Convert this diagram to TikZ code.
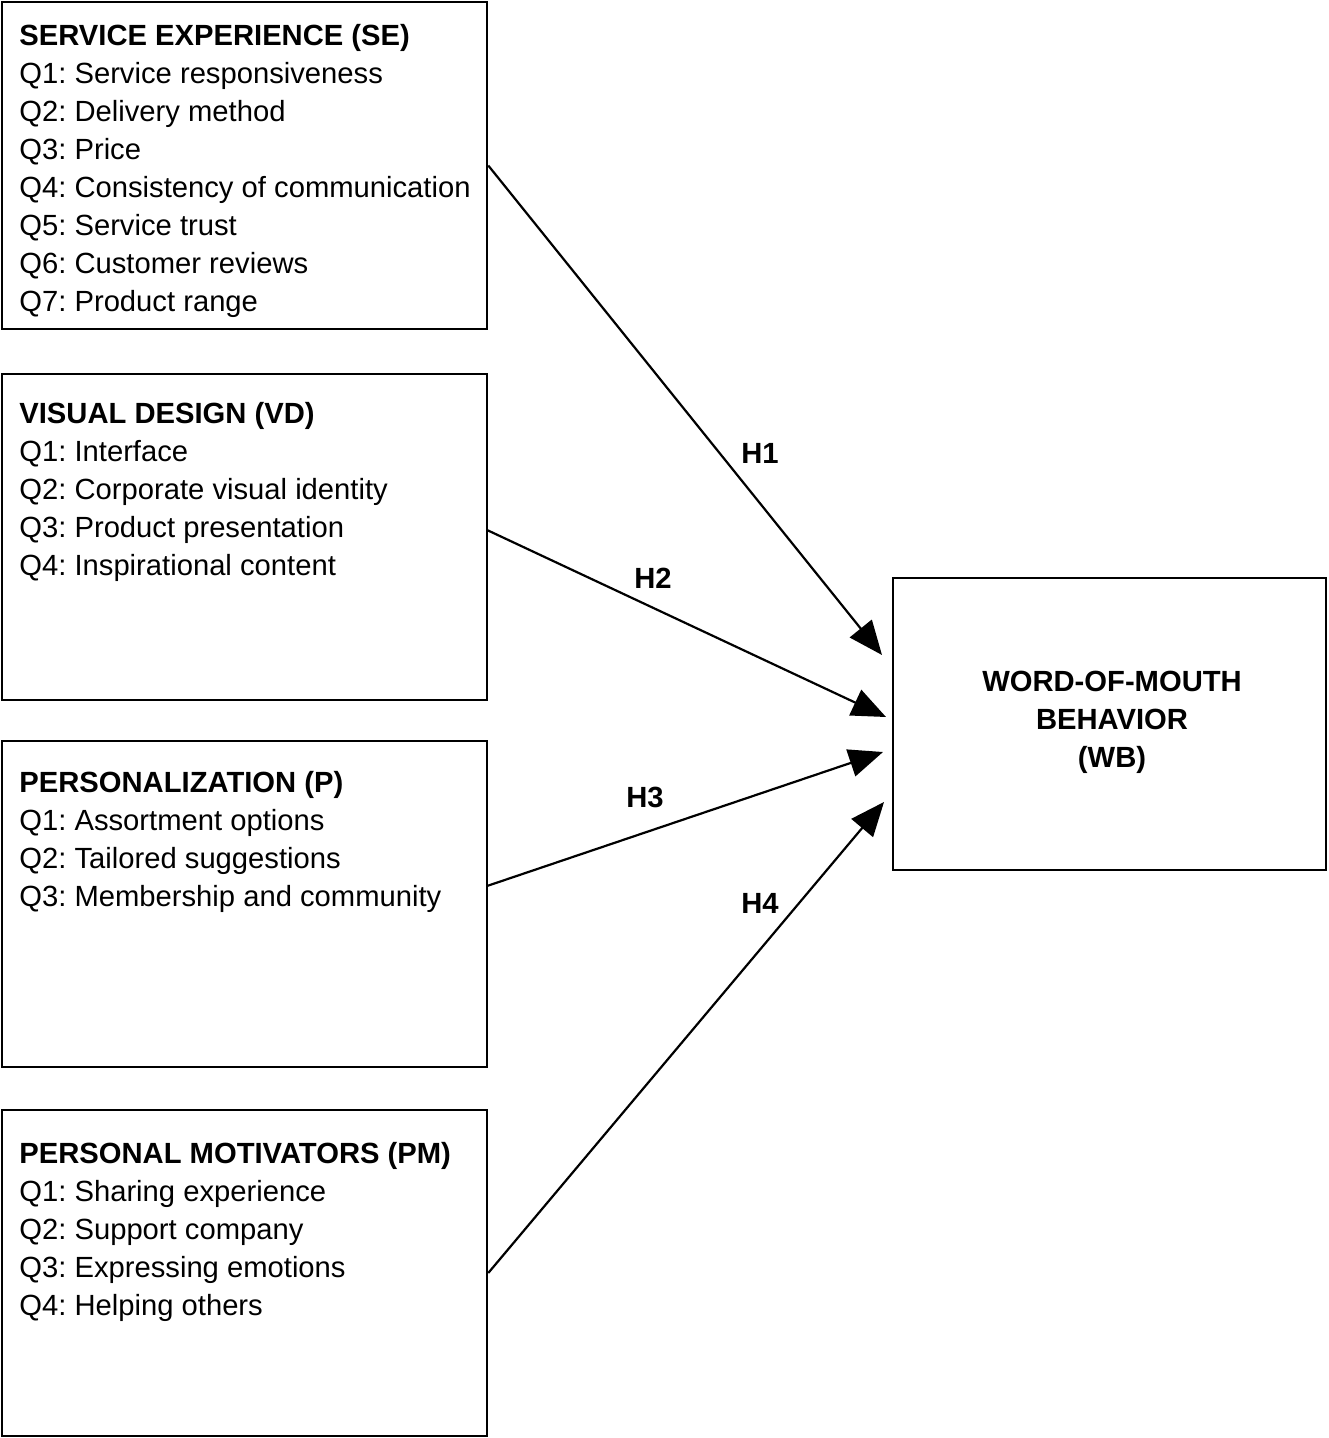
\documentclass[tikz,border=0pt]{standalone}
\usepackage{fontspec}
\setmainfont{Liberation Sans}
\usetikzlibrary{arrows.meta}
\frenchspacing

\begin{document}
\begin{tikzpicture}
[every node/.style={inner sep=0pt, font=\fontsize{14.6}{19}\selectfont},
 box/.style={rectangle, draw=black, line width=1.25pt, minimum width=242.5pt, minimum height=163pt},
 items/.style={anchor=north west, align=left},
 hyp/.style={font=\fontsize{14.6}{19}\selectfont\bfseries},
 link/.style={line width=1.1pt, -{Triangle[length=17pt, width=14pt]}, color=black}]
\useasboundingbox (0pt, 0pt) rectangle (664pt, -719pt);
% construct boxes
\node (se) [box, minimum height=163.5pt] at (122.25pt, -82.75pt) {};
\node (vd) [box] at (122.25pt, -268.5pt) {};
\node (p) [box] at (122.25pt, -452.0pt) {};
\node (pm) [box] at (122.25pt, -636.5pt) {};
\node (wb) [box, minimum width=216.5pt, minimum height=146pt] at (554.75pt, -362.0pt) {};
% item lists
\node (setext) [items] at (9.5pt, -12.0pt) {\textbf{SERVICE EXPERIENCE (SE)}\\Q1: Service responsiveness\\Q2: Delivery method\\Q3: Price\\Q4: Consistency of communication\\Q5: Service trust\\Q6: Customer reviews\\Q7: Product range};
\node (vdtext) [items] at (9.5pt, -201.0pt) {\textbf{VISUAL DESIGN (VD)}\\Q1: Interface\\Q2: Corporate visual identity\\Q3: Product presentation\\Q4: Inspirational content};
\node (ptext) [items] at (9.5pt, -385.5pt) {\textbf{PERSONALIZATION (P)}\\Q1: Assortment options\\Q2: Tailored suggestions\\Q3: Membership and community};
\node (pmtext) [items] at (9.5pt, -571.0pt) {\textbf{PERSONAL MOTIVATORS (PM)}\\Q1: Sharing experience\\Q2: Support company\\Q3: Expressing emotions\\Q4: Helping others};
\node (wbtext) [align=center, font=\fontsize{14.6}{19}\selectfont\bfseries] at (556.0pt, -361.0pt) {WORD-OF-MOUTH\\BEHAVIOR\\(WB)};
% arrow ends
\coordinate (vdout) at (243.5pt, -265.0pt);
\coordinate (pout) at (243.5pt, -443.0pt);
\coordinate (in1) at (441.0pt, -327.5pt);
\coordinate (in2) at (443.0pt, -358.5pt);
\coordinate (in3) at (441.5pt, -376.0pt);
\coordinate (in4) at (442.0pt, -401.0pt);
\draw [link] (se.east) to (in1);
\draw [link] (vdout) to (in2);
\draw [link] (pout) to (in3);
\draw [link] (pm.east) to (in4);
% hypotheses
\node (h1) [hyp] at (380.0pt, -226.5pt) {H1};
\node (h2) [hyp] at (326.5pt, -289.0pt) {H2};
\node (h3) [hyp] at (322.5pt, -398.5pt) {H3};
\node (h4) [hyp] at (380.0pt, -451.5pt) {H4};
\end{tikzpicture}
\end{document}
